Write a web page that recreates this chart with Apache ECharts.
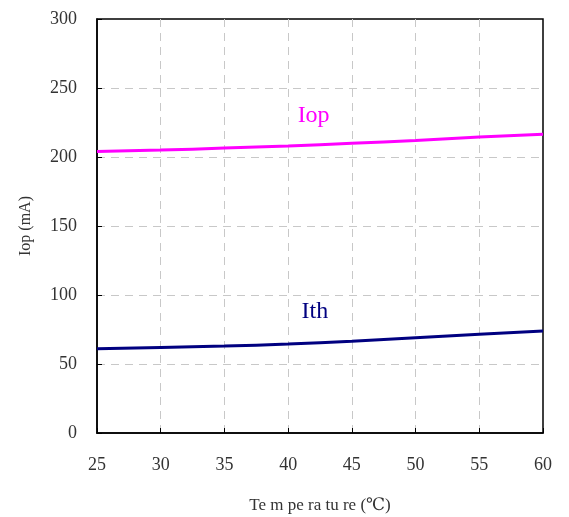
<!DOCTYPE html>
<html><head><meta charset="utf-8">
<script src="https://cdn.jsdelivr.net/npm/echarts@6/dist/echarts.min.js"></script>
<style>html,body{margin:0;padding:0;background:#fff}#c{width:569px;height:517px}</style>
</head><body><div id="c"></div>
<script>
const temps = [25, 30, 35, 40, 45, 50, 55, 60];
const iop = [204, 205, 206.5, 208, 210, 212, 214.5, 216.5];
const ith = [61, 62, 63, 64.5, 66.5, 69, 71.5, 74];
const xTitle = 'Te m pe ra tu re (℃)';
const yTitle = 'Iop (mA)';
const font = '"Liberation Serif", "DejaVu Serif", serif';
const chart = echarts.init(document.getElementById('c'));
const lbl = (text, color) => ({show: true, position: 'inside', formatter: text, color: color, fontFamily: font, fontSize: 24});
chart.setOption({
  animation: false,
  grid: {left: 97, right: 26, top: 19, bottom: 84, outerBoundsMode: 'none', containLabel: false,
         show: true, borderColor: '#000', borderWidth: 1.5},
  xAxis: {
    type: 'value', min: 25, max: 60, interval: 5,
    name: xTitle, nameLocation: 'middle', nameGap: 64,
    nameTextStyle: {fontFamily: font, fontSize: 17, color: '#333'},
    axisLine: {lineStyle: {color: '#000', width: 1.5}},
    axisTick: {inside: true, length: 5, lineStyle: {color: '#000'}},
    axisLabel: {fontFamily: font, fontSize: 18, color: '#333', margin: 23},
    splitLine: {show: true, showMinLine: false, showMaxLine: false, lineStyle: {color: '#c8c8c8', type: [8, 6]}}
  },
  yAxis: {
    type: 'value', min: 0, max: 300, interval: 50,
    name: yTitle, nameLocation: 'middle', nameGap: 63,
    nameTextStyle: {fontFamily: font, fontSize: 16, color: '#333'},
    axisLine: {show: true, lineStyle: {color: '#000', width: 1.5}},
    axisTick: {show: true, inside: true, length: 5, lineStyle: {color: '#000'}},
    axisLabel: {fontFamily: font, fontSize: 18, color: '#333', margin: 20},
    splitLine: {show: true, showMinLine: false, showMaxLine: false, lineStyle: {color: '#c8c8c8', type: [8, 6]}}
  },
  series: [
    {type: 'line', data: temps.map((t, i) => [t, iop[i]]), smooth: true, symbol: 'none',
     lineStyle: {color: '#ff00ff', width: 3},
     markPoint: {symbol: 'circle', symbolSize: 1, itemStyle: {color: 'rgba(0,0,0,0)'},
       data: [{coord: [42, 230], label: lbl('Iop', '#ff00ff')}]}},
    {type: 'line', data: temps.map((t, i) => [t, ith[i]]), smooth: true, symbol: 'none',
     lineStyle: {color: '#000080', width: 3},
     markPoint: {symbol: 'circle', symbolSize: 1, itemStyle: {color: 'rgba(0,0,0,0)'},
       data: [{coord: [42.1, 88], label: lbl('Ith', '#000080')}]}}
  ]
});
</script></body></html>
